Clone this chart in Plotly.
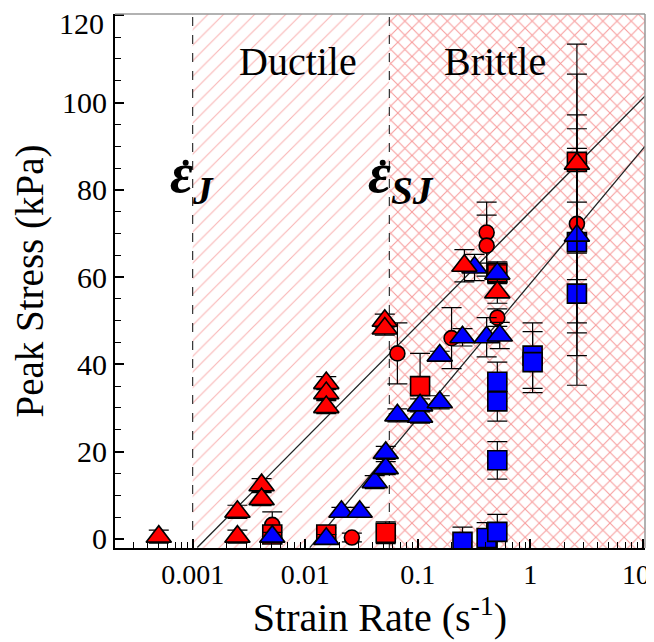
import plotly.graph_objects as go

# ---------------- data ----------------
red_tri_x = [0.0005, 0.0025, 0.0025, 0.0041, 0.0041, 0.0154, 0.0154, 0.0154, 0.051, 0.051, 0.26, 0.51, 2.6]
red_tri_y = [0.5, 6.2, 0.5, 12.3, 9.1, 35.7, 33.4, 30.2, 50.0, 48.2, 62.6, 56.5, 86.0]
red_tri_err = [1.5, 1.5, 1.5, 1.5, 1.5, 1.5, 1.5, 1.5, 1.5, 1.5, 3.7, 2.5, 20.5]

red_sq_x = [0.0051, 0.0154, 0.052, 0.105, 0.51, 2.6]
red_sq_y = [1.0, 1.0, 1.4, 35.0, 61.0, 86.4]
red_sq_err = [1.5, 1.5, 2.5, 7.5, 2.5, 27.0]

red_circ_x = [0.0051, 0.026, 0.066, 0.2, 0.41, 0.41, 0.51, 2.6]
red_circ_y = [3.2, 0.3, 42.5, 46.0, 70.2, 67.2, 50.7, 72.2]
red_circ_err = [3.0, 1.0, 7.0, 7.0, 7.0, 7.0, 2.0, 25.0]

blue_tri_x = [0.0051, 0.0154, 0.021, 0.0305, 0.0415, 0.052, 0.052, 0.066, 0.105, 0.105,
              0.157, 0.157, 0.25, 0.32, 0.41, 0.536, 0.51, 2.6]
blue_tri_y = [0.5, 0.0, 6.2, 6.2, 13.0, 16.2, 19.7, 28.3, 28.0, 30.6,
              31.3, 42.0, 46.2, 62.2, 46.2, 46.6, 60.8, 69.5]
blue_tri_err = [1.0, 1.0, 1.0, 1.0, 1.5, 1.5, 1.5, 1.5, 1.5, 1.5,
                1.5, 1.0, 2.0, 3.0, 4.5, 3.0, 2.0, 20.0]

blue_sq_x = [0.25, 0.41, 0.51, 0.51, 0.51, 0.51, 1.05, 1.05, 2.6, 2.6]
blue_sq_y = [-0.7, 0.2, 1.6, 18.0, 31.5, 36.0, 42.0, 40.5, 68.0, 56.2]
blue_sq_err = [3.4, 3.5, 4.0, 4.3, 4.5, 4.5, 7.5, 7.0, 26.0, 21.0]

# transition strain rates
rate_J = 0.001
rate_SJ = 0.056
rate_max = 10.5
stress_min = -2.1
stress_max = 120.3

# fitted trend lines (end points)
fit1_x = [0.0011, 10.5]
fit1_y = [-2, 101.5]
fit2_x = [0.011, 10.5]
fit2_y = [-2, 90.0]

x_tick_vals = [0.001, 0.01, 0.1, 1, 10]
x_tick_text = ["0.001", "0.01", "0.1", "1", ""]      # "10" drawn as an annotation (kept inside the page)
y_tick_vals = [0, 20, 40, 60, 80, 100, 120]
y_tick_text = ["0", "20", "40", "60", "80", "100", ""]  # "120" drawn as an annotation

# dots of the rate symbols (epsilon-dot)
dot_x = [10 ** -3.062, 10 ** -1.311]
dot_y = [86.2, 86.2]

FONT = "Liberation Serif, Times New Roman, serif"
RED = "#ff0000"
BLUE = "#0000ff"

fig = go.Figure()

# hatched regions
fig.add_trace(go.Scatter(
    x=[rate_J, rate_SJ, rate_SJ, rate_J, rate_J],
    y=[stress_min, stress_min, stress_max, stress_max, stress_min],
    mode="lines", line=dict(width=0), fill="toself", fillcolor="rgba(0,0,0,0)",
    fillpattern=dict(shape="/", fgcolor="rgba(240,70,70,0.8)", bgcolor="white", size=11, solidity=0.1),
    hoverinfo="skip", showlegend=False))
fig.add_trace(go.Scatter(
    x=[rate_SJ, rate_max, rate_max, rate_SJ, rate_SJ],
    y=[stress_min, stress_min, stress_max, stress_max, stress_min],
    mode="lines", line=dict(width=0), fill="toself", fillcolor="rgba(0,0,0,0)",
    fillpattern=dict(shape="x", fgcolor="rgba(238,45,45,0.95)", bgcolor="white", size=10, solidity=0.2),
    hoverinfo="skip", showlegend=False))

# dashed transition lines
for xv in (rate_J, rate_SJ):
    fig.add_trace(go.Scatter(x=[xv, xv], y=[stress_min, stress_max], mode="lines",
                             line=dict(color="#333333", width=1.2, dash="dash"),
                             hoverinfo="skip", showlegend=False))

# fit lines
fig.add_trace(go.Scatter(x=fit1_x, y=fit1_y, mode="lines", line=dict(color="#222", width=1.3),
                         hoverinfo="skip", showlegend=False))
fig.add_trace(go.Scatter(x=fit2_x, y=fit2_y, mode="lines", line=dict(color="#222", width=1.3),
                         hoverinfo="skip", showlegend=False))


def add_points(xs, ys, errs, symbol, color, size):
    fig.add_trace(go.Scatter(
        x=xs, y=ys, mode="markers",
        marker=dict(symbol=symbol, color=color, size=size, line=dict(color="black", width=1.6)),
        error_y=dict(type="data", array=errs, visible=True, color="black", thickness=1.2, width=10),
        showlegend=False))


add_points(red_circ_x, red_circ_y, red_circ_err, "circle", RED, 15)
add_points(red_sq_x, red_sq_y, red_sq_err, "square", RED, 19)
add_points(blue_sq_x, blue_sq_y, blue_sq_err, "square", BLUE, 19)
add_points(blue_tri_x, blue_tri_y, blue_tri_err, "triangle-up", BLUE, 22)
add_points(red_tri_x, red_tri_y, red_tri_err, "triangle-up", RED, 22)

# dots above epsilons
fig.add_trace(go.Scatter(x=dot_x, y=dot_y, mode="markers",
                         marker=dict(symbol="circle", color="black", size=6, line=dict(width=0)),
                         hoverinfo="skip", showlegend=False))

# text labels
fig.add_annotation(x=-2.067, y=109.5, xref="x", yref="y", text="Ductile", showarrow=False,
                   font=dict(family=FONT, size=40, color="black"))
fig.add_annotation(x=-0.316, y=109.5, xref="x", yref="y", text="Brittle", showarrow=False,
                   font=dict(family=FONT, size=40, color="black"))
fig.add_annotation(x=-3.22, y=83, xref="x", yref="y", text="<b><i>ε<sub>J</sub></i></b>",
                   showarrow=False, xanchor="left", font=dict(family=FONT, size=56, color="black"))
fig.add_annotation(x=-1.46, y=83, xref="x", yref="y", text="<b><i>ε<sub>SJ</sub></i></b>",
                   showarrow=False, xanchor="left", font=dict(family=FONT, size=56, color="black"))

# edge tick labels
fig.add_annotation(x=1, y=0, xref="x", yref="paper", yanchor="top", yshift=-9, xshift=-7,
                   text="10", showarrow=False, font=dict(family=FONT, size=28, color="black"))
fig.add_annotation(x=0, y=120, xref="paper", yref="y", xanchor="right", xshift=-9, yshift=-8,
                   text="120", showarrow=False, font=dict(family=FONT, size=30, color="black"))

minor_vals = [k * 10 ** e for e in range(-4, 2) for k in range(2, 10)]

fig.update_xaxes(type="log", range=[-3.69, 1.02], tickvals=x_tick_vals, ticktext=x_tick_text,
                 ticks="inside", ticklen=9, tickwidth=1.5, tickcolor="black",
                 minor=dict(tickvals=minor_vals, ticks="inside", ticklen=6, tickwidth=1.2, tickcolor="black"),
                 showline=True, linecolor="black", linewidth=2, mirror=False,
                 showgrid=False, zeroline=False, automargin=False, ticklabeloverflow="allow",
                 tickfont=dict(family=FONT, size=28, color="black"),
                 title=dict(text="Strain Rate (s<sup>-1</sup>)", font=dict(family=FONT, size=40, color="black"),
                            standoff=6))
fig.update_yaxes(range=[stress_min, stress_max], tickvals=y_tick_vals, ticktext=y_tick_text,
                 ticks="inside", ticklen=9, tickwidth=1.5, tickcolor="black",
                 minor=dict(dtick=5, ticks="inside", ticklen=6, tickwidth=1.2, tickcolor="black"),
                 showline=True, linecolor="black", linewidth=2,
                 showgrid=False, zeroline=False, automargin=False, ticklabeloverflow="allow",
                 tickfont=dict(family=FONT, size=30, color="black"),
                 title=dict(text="Peak Stress (kPa)", font=dict(family=FONT, size=39, color="black"),
                            standoff=10))

# light frame on top/right
fig.add_shape(type="line", xref="paper", yref="paper", x0=0, x1=1, y0=1, y1=1,
              line=dict(color="#999999", width=1.5))
fig.add_shape(type="line", xref="paper", yref="paper", x0=1, x1=1, y0=0, y1=1,
              line=dict(color="#999999", width=1.5))

# the page body adds an 8px offset, so the figure is sized/margined to compensate
fig.update_layout(width=646, height=634, margin=dict(l=107, r=9, t=6, b=94),
                  paper_bgcolor="white", plot_bgcolor="white", showlegend=False)

fig.write_html("out.html")
